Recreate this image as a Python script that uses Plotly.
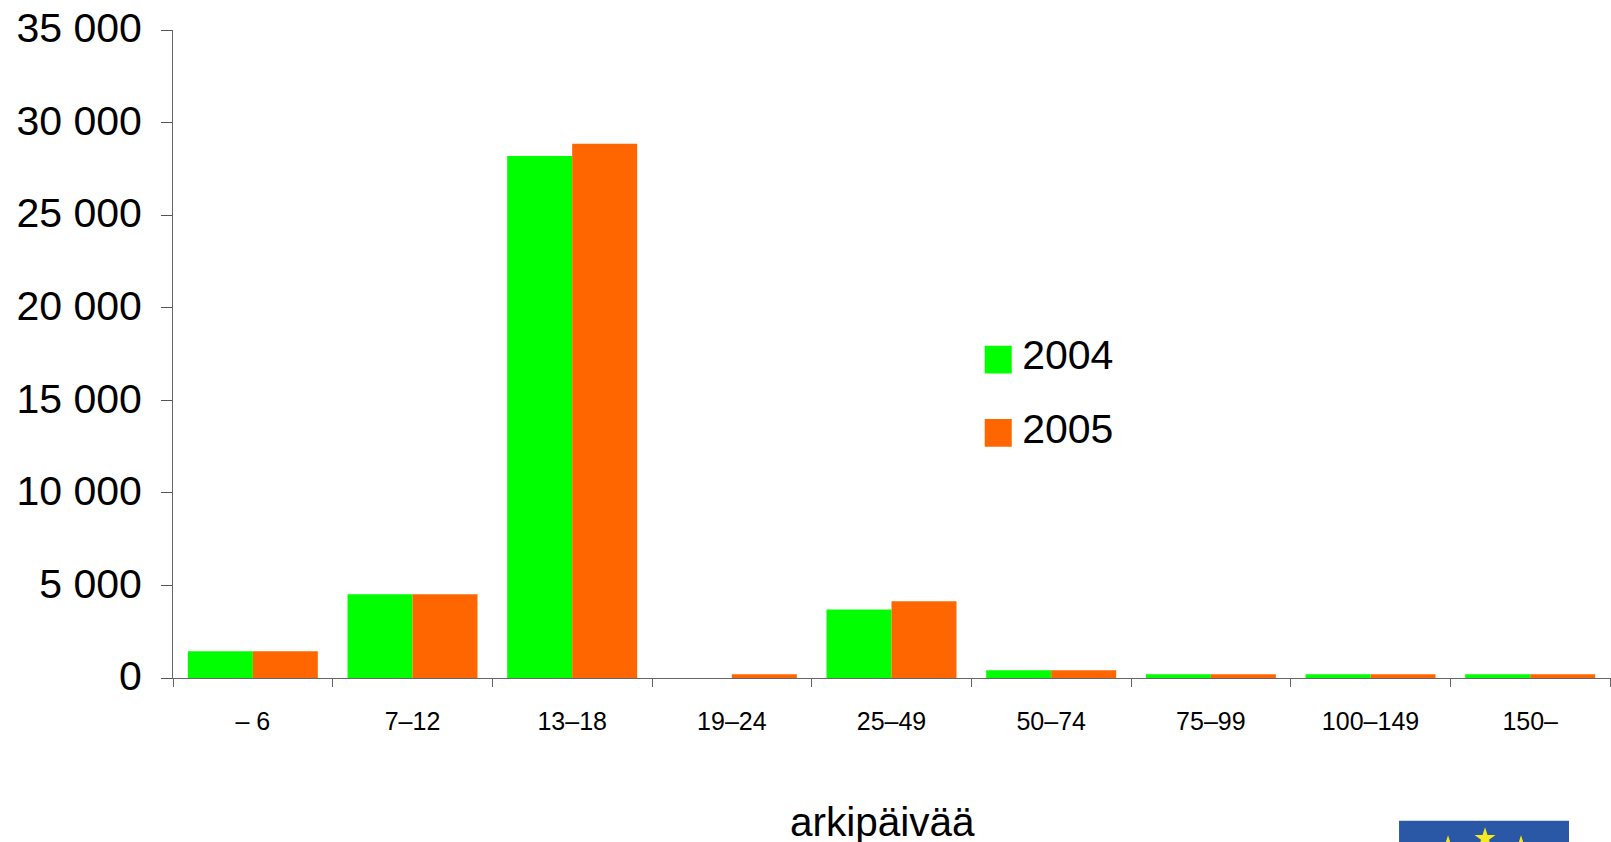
import math
import plotly.graph_objects as go

categories = ["– 6", "7–12", "13–18", "19–24", "25–49", "50–74", "75–99", "100–149", "150–"]
values_2004 = [1440, 4520, 28200, None, 3700, 415, 200, 200, 200]
values_2005 = [1440, 4520, 28860, 200, 4140, 415, 200, 200, 200]
y_ticks = [0, 5000, 10000, 15000, 20000, 25000, 30000, 35000]
y_labels = ["0", "5 000", "10 000", "15 000", "20 000", "25 000", "30 000", "35 000"]
x_title = "arkipäivää"

W, H = 1611, 842
L, T, R, B = 172.7, 30, 0, 164.3
FONT = "Liberation Sans, Arial, sans-serif"


def px(x):
    return (x - L) / (W - L - R)


def py(y):
    return 1 - (y - T) / (H - T - B)


def star(cx, cy, r):
    pts = []
    for i in range(10):
        a = -math.pi / 2 + i * math.pi / 5
        rad = r if i % 2 == 0 else r * 0.382
        pts.append((px(cx + rad * math.cos(a)), py(cy + rad * math.sin(a))))
    return "M" + "L".join(f"{a:.5f},{b:.5f}" for a, b in pts) + "Z"


shapes = [dict(type="rect", xref="paper", yref="paper", x0=px(1399), x1=px(1569),
               y0=py(820.5), y1=py(842), fillcolor="#2a57a6", line_width=0, layer="above")]
for c in [(1485, 838, 11), (1448, 846, 11), (1521, 846, 11)]:
    shapes.append(dict(type="path", xref="paper", yref="paper", path=star(*c),
                       fillcolor="#f6ea20", line_width=0, layer="above"))

fig = go.Figure()
fig.add_bar(name="2004", x=categories, y=values_2004, marker_color="#00ff00", marker_line_width=0, legendgroup="a")
fig.add_bar(name="2005", x=categories, y=values_2005, marker_color="#ff6600", marker_line_width=0, legendgroup="b")

fig.update_layout(
    width=W, height=H, margin=dict(l=L, t=T, r=R, b=B, pad=0, autoexpand=False),
    paper_bgcolor="white", plot_bgcolor="white",
    barmode="group", bargap=0.186, bargroupgap=0,
    font=dict(family=FONT, color="black"),
    shapes=shapes,
    legend=dict(x=px(982), y=py(320), xanchor="left", yanchor="top",
                font=dict(size=41, family=FONT, color="black"),
                bgcolor="rgba(0,0,0,0)", tracegroupgap=17, borderwidth=0),
    annotations=[dict(text=x_title, xref="paper", yref="paper", x=px(882), y=py(822),
                      showarrow=False, xanchor="center", yanchor="middle",
                      font=dict(size=40.5, family=FONT, color="black"))],
)
fig.update_xaxes(type="category", categoryorder="array", categoryarray=categories,
                 range=[-0.5, 8.506], tickson="boundaries", ticks="outside", ticklen=8,
                 tickcolor="#666666", tickwidth=1, showline=True, linecolor="#666666", linewidth=1,
                 showgrid=False, zeroline=False, tickangle=0,
                 tickfont=dict(size=25, family=FONT, color="black"), ticklabelstandoff=21)
fig.update_yaxes(range=[0, 35000], tickmode="array", tickvals=y_ticks, ticktext=y_labels,
                 ticks="outside", ticklen=11, tickcolor="#555555", tickwidth=1,
                 showline=True, linecolor="#666666", linewidth=1,
                 showgrid=False, zeroline=False,
                 tickfont=dict(size=41, family=FONT, color="black"), ticklabelstandoff=11,
                 ticklabelshift=-2)

post = """
document.body.style.margin = '0';
document.body.style.overflow = 'hidden';
document.querySelectorAll('.legend .legendpoints path').forEach(function (p) {
  p.setAttribute('transform', 'translate(16.1,6.3) scale(2.25,2.3)');
});
"""
fig.write_html("out.html", post_script=post, config={"displayModeBar": False})
